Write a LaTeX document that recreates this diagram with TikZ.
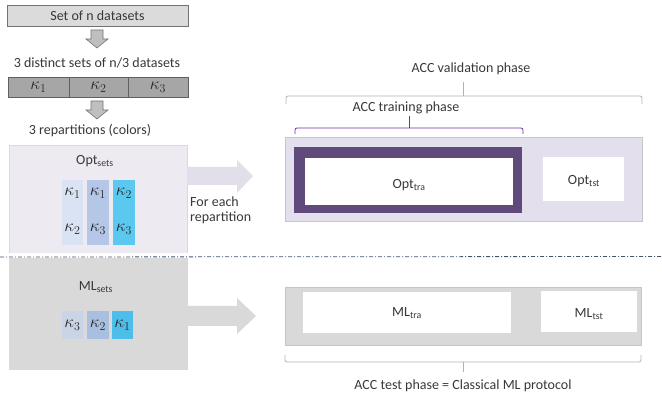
\documentclass[tikz,border=0pt]{standalone}
\usepackage{fontspec}
\setmainfont{Carlito}
\begin{document}
\begin{tikzpicture}[x=1pt,y=-1pt,
  lbl/.style={font=\fontsize{14}{16}\selectfont, text=black!78, inner sep=0pt},
  kap/.style={font=\fontsize{18}{20}\selectfont, inner sep=0pt, text=black!85},
  cell/.style={draw=none, inner sep=0pt},
  downarrow/.style={fill=gray!50, draw=gray!90!black, line width=0.6pt},
  wbox/.style={fill=white, draw=none, inner sep=0pt}]
\useasboundingbox (0,0) rectangle (662,403);
\definecolor{lav}{HTML}{EDEAF1}
\definecolor{lavar}{HTML}{E3DFEA}
\definecolor{lavbox}{HTML}{E4DFEC}
\definecolor{purp}{HTML}{604A7B}
\definecolor{purl}{HTML}{7030A0}
\definecolor{cA}{HTML}{DAE3F3}
\definecolor{cB}{HTML}{B4C7E7}
\definecolor{cC}{HTML}{5BC8F0}
\definecolor{mA}{HTML}{C9D5E6}
\definecolor{mB}{HTML}{A9BFDF}
\definecolor{mC}{HTML}{4DBDE9}
\definecolor{dd}{HTML}{44546A}

% top box
\node[draw=gray!90!black, fill=gray!28, minimum width=181pt, minimum height=21pt, inner sep=0pt, line width=0.6pt] (all) at (97.5,15.5) {};
\node[lbl] at (all) {Set of n datasets};
% down arrow 1
\draw[downarrow] (91,30) -- (103,30) -- (103,39) -- (108,39) -- (97,48) -- (86,39) -- (91,39) -- cycle;
\node[lbl] (three) at (97,63) {3 distinct sets of n/3 datasets};
% bar
\node[draw=gray!75!black, fill=gray!70, minimum width=180pt, minimum height=20pt, inner sep=0pt, line width=0.6pt] (bar) at (98,87) {};
\draw[gray!75!black, line width=0.6pt] (69,77) -- (69,97) (128,77) -- (128,97);
\node[kap] at (38.5,87.5) {$\kappa_1$};
\node[kap] at (98.5,87.5) {$\kappa_2$};
\node[kap] at (158,87.5) {$\kappa_3$};
% down arrow 2
\draw[downarrow] (91,101) -- (103,101) -- (103,110) -- (108,110) -- (97,119) -- (86,110) -- (91,110) -- cycle;
\node[lbl] (rep) at (90,131) {3 repartitions (colors)};

% Opt sets box
\fill[lav] (9,145) rectangle (187,253);
\draw[gray!30, line width=0.4pt] (9,253) -- (9,145) -- (187,145) -- (187,253);
\node[lbl] (optsets) at (95,161) {Opt\textsubscript{sets}};
\fill[cA] (62,180) rectangle (83,245);
\fill[cB] (87,180) rectangle (109,245);
\fill[cC] (113,180) rectangle (135,245);
\node[kap] at (72.5,193) {$\kappa_1$};
\node[kap] at (72.5,229) {$\kappa_2$};
\node[kap] at (98,193) {$\kappa_1$};
\node[kap] at (98,229) {$\kappa_3$};
\node[kap] at (124,193) {$\kappa_2$};
\node[kap] at (124,229) {$\kappa_3$};
% arrow right (opt)
\fill[lavar] (187,167) -- (237,167) -- (237,160) -- (253,176) -- (237,193) -- (237,185) -- (187,185) -- cycle;
\node[lbl, align=left, anchor=north west] (fer) at (190,197) {For each\\[-1pt]repartition};

% ML sets box
\fill[gray!30] (9,258) rectangle (188,370);
\node[lbl] (mlsets) at (96,287) {ML\textsubscript{sets}};
\fill[mA] (62,311) rectangle (83,339);
\fill[mB] (87,311) rectangle (109,339);
\fill[mC] (112,311) rectangle (133,339);
\node[kap] at (72.5,325) {$\kappa_3$};
\node[kap] at (98,325) {$\kappa_2$};
\node[kap] at (122.5,325) {$\kappa_1$};
% arrow right (ML)
\fill[gray!30] (188,306) -- (237,306) -- (237,298) -- (256,316) -- (237,334) -- (237,326) -- (188,326) -- cycle;

% dash-dot separator
\draw[dd, line width=0.8pt, dash pattern=on 4pt off 2pt on 1pt off 2pt] (0,257) -- (662,256.5);

% validation brace
\node[lbl] (valt) at (471,69) {ACC validation phase};
\draw[gray!60, line width=0.8pt, rounded corners=2pt] (286,104) -- (286,96) -- (642,96) -- (642,104);
\draw[gray!60, line width=0.8pt] (463,96) -- (463,82);
% training brace
\node[lbl] (trat) at (406,108) {ACC training phase};
\draw[purl, line width=0.8pt, rounded corners=2pt] (295,134) -- (295,128) -- (523,128) -- (523,134);
\draw[purl, line width=0.8pt] (409,128) -- (409,116);

% Opt box
\node[fill=lavbox, draw=gray!45, line width=0.6pt, minimum width=357pt, minimum height=84pt, inner sep=0pt] (optbox) at (463.5,179) {};
\node[fill=purp, minimum width=228pt, minimum height=66pt, inner sep=0pt] (frame) at (408,180) {};
\node[wbox, minimum width=208pt, minimum height=47pt] (opttra) at (409,181.5) {};
\node[lbl] at (409,185) {Opt\textsubscript{tra}};
\node[wbox, minimum width=81pt, minimum height=44pt] (opttst) at (583.5,179) {};
\node[lbl] at (584,181) {Opt\textsubscript{tst}};

% ML box
\node[fill=gray!30, draw=gray!45, line width=0.6pt, minimum width=356pt, minimum height=58pt, inner sep=0pt] (mlbox) at (463,316) {};
\node[wbox, minimum width=208pt, minimum height=41pt] (mltra) at (407,312.5) {};
\node[lbl] at (407,313) {ML\textsubscript{tra}};
\node[wbox, minimum width=96pt, minimum height=41pt] (mltst) at (589,311.5) {};
\node[lbl] at (589,314) {ML\textsubscript{tst}};

% test brace
\draw[gray!60, line width=0.8pt, rounded corners=2pt] (285,355) -- (285,362) -- (641,362) -- (641,355);
\draw[gray!60, line width=0.8pt] (463,362) -- (463,372);
\node[lbl] (testt) at (463,386) {ACC test phase = Classical ML protocol};
\end{tikzpicture}
\end{document}
